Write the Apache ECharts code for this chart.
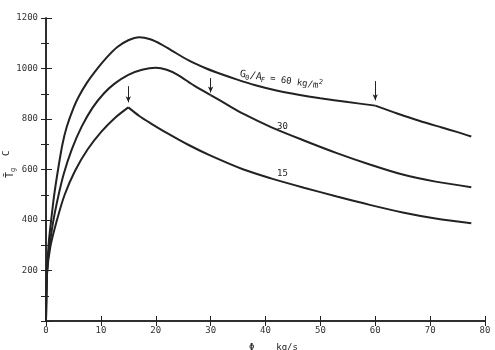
<!DOCTYPE html>
<html>
<head>
<meta charset="utf-8">
<script src="https://cdn.jsdelivr.net/npm/echarts@6/dist/echarts.min.js"></script>
<style>
  html, body { margin: 0; padding: 0; background: #fff; }
  #chart { width: 495px; height: 350px; }
</style>
</head>
<body>
<div id="chart"></div>
<script>
// Φ (kg/s) and gas temperature T_g (C) for G0/AF = 60, 30, 15 kg/m2
var phi60 = [0, 0.2, 0.5, 1, 1.5, 2.2, 3, 3.8, 5, 6, 7.5, 9, 11, 13, 15, 17, 19, 21, 23, 26, 29, 32, 35, 38, 42, 46, 50, 55, 60, 64, 68, 72, 75, 77.5];
var tg60 = [0, 200, 310, 410, 500, 600, 700, 770, 843, 890, 945, 990, 1042, 1085, 1112, 1124, 1116, 1096, 1070, 1032, 1002, 977, 955, 935, 913, 896, 882, 867, 853, 822, 793, 767, 748, 731];

var phi30 = [0, 0.2, 0.6, 1.2, 2, 3.2, 4.7, 6.5, 8.5, 10.5, 12.5, 15, 17.5, 20, 22, 24, 27, 30, 33, 36, 41, 47, 53, 59, 65, 71, 77.5];
var tg30 = [0, 200, 290, 380, 470, 580, 680, 770, 845, 900, 940, 975, 995, 1003, 995, 975, 932, 895, 857, 820, 768, 715, 665, 620, 580, 552, 530];

var phi15 = [0, 0.2, 0.8, 2, 3.4, 5.3, 7.6, 10.1, 12.6, 15, 17, 19, 22, 26, 30, 36, 41, 47, 53, 59, 65, 71, 77.5];
var tg15 = [0, 190, 295, 400, 500, 595, 680, 750, 805, 846, 812, 784, 745, 697, 655, 600, 565, 528, 493, 460, 430, 406, 387];

// arrows marking the break points
var arrowPhi = [15, 30, 60];
var arrowFrom = [930, 962, 950];
var arrowTo = [866, 905, 874];

var yTicks = [200, 400, 600, 800, 1000, 1200];

// split a curve at its break point so the corner stays sharp
function segments(xs, ys, breakX) {
    var before = [], after = [];
    xs.forEach(function (x, i) {
        if (x <= breakX) before.push([x, ys[i]]);
        if (x >= breakX) after.push([x, ys[i]]);
    });
    return [before, after];
}

var ink = '#222';
var mono = '"DejaVu Sans Mono", "Liberation Mono", monospace';

function arrowLine(i) {
    return {
        silent: true,
        symbol: ['none', 'arrow'],
        symbolSize: [4, 6],
        label: { show: false },
        lineStyle: { color: ink, width: 1, type: 'solid' },
        data: [[{ coord: [arrowPhi[i], arrowFrom[i]] }, { coord: [arrowPhi[i], arrowTo[i]] }]]
    };
}

function curve(name, xs, ys, arrowIndex) {
    var parts = segments(xs, ys, arrowPhi[arrowIndex]);
    return parts.map(function (data, k) {
        var s = {
            name: name,
            type: 'line',
            data: data,
            showSymbol: false,
            smooth: 0.3,
            lineStyle: { color: ink, width: 2 }
        };
        if (k === 0) s.markLine = arrowLine(arrowIndex);
        return s;
    });
}

var series = [].concat(
    curve('60', phi60, tg60, 2),
    curve('30', phi30, tg30, 1),
    curve('15', phi15, tg15, 0)
);

var chart = echarts.init(document.getElementById('chart'));
chart.setOption({
    animation: false,
    backgroundColor: '#fff',
    grid: { left: 46, top: 18, right: 10, bottom: 29, outerBoundsMode: 'none', containLabel: false },
    xAxis: [
        {
            type: 'value',
            min: 0, max: 80, interval: 10,
            name: 'Φ    kg/s',
            nameLocation: 'middle',
            nameGap: 22,
            nameTextStyle: { fontFamily: mono, fontSize: 9, color: ink, padding: [0, 0, 0, 16] },
            axisLine: { show: true, lineStyle: { color: ink, width: 1.5 } },
            axisTick: { show: true, inside: true, length: 5, lineStyle: { color: ink } },
            axisLabel: { fontFamily: mono, fontSize: 9, color: '#333', margin: 5 },
            splitLine: { show: false }
        },
        {
            type: 'value',
            position: 'top',
            min: 0, max: 80, interval: 10,
            axisLine: { show: true, lineStyle: { color: ink, width: 1.5 } },
            axisTick: { show: true, inside: true, length: 5, lineStyle: { color: ink } },
            axisLabel: { show: false },
            splitLine: { show: false }
        }
    ],
    yAxis: [
        {
            type: 'value',
            min: 0, max: 1200, interval: 200,
            axisLine: { show: true, lineStyle: { color: ink, width: 1.5 } },
            axisTick: { show: true, inside: true, length: 6, lineStyle: { color: ink } },
            minorTick: { show: true, splitNumber: 2, length: 3, lineStyle: { color: ink } },
            axisLabel: {
                fontFamily: mono, fontSize: 9, color: '#333', margin: 8,
                formatter: function (v) { return yTicks.indexOf(v) >= 0 ? String(v) : ''; }
            },
            splitLine: { show: false }
        },
        {
            type: 'value',
            position: 'right',
            min: 0, max: 1200, interval: 100,
            axisLine: { show: true, lineStyle: { color: ink, width: 1.5 } },
            axisTick: { show: true, inside: true, length: 5, lineStyle: { color: ink } },
            axisLabel: { show: false },
            splitLine: { show: false }
        }
    ],
    series: series,
    graphic: [
        {
            // G0/AF = 60 kg/m2, written along the top curve
            type: 'group',
            x: 240, y: 74,
            rotation: -0.15,
            children: [
                { type: 'text', x: 0, y: 0, style: { text: 'G', font: '10px ' + mono, fill: ink, verticalAlign: 'middle' } },
                { type: 'text', x: 5.5, y: 3, style: { text: '0', font: '7px ' + mono, fill: ink, verticalAlign: 'middle' } },
                { type: 'text', x: 10, y: 0, style: { text: '/A', font: '10px ' + mono, fill: ink, verticalAlign: 'middle' } },
                { type: 'text', x: 21.5, y: 3, style: { text: 'F', font: '7px ' + mono, fill: ink, verticalAlign: 'middle' } },
                { type: 'text', x: 25, y: 0, style: { text: ' = 60 kg/m', font: '9px ' + mono, fill: ink, verticalAlign: 'middle' } },
                { type: 'text', x: 79, y: -4, style: { text: '2', font: '7px ' + mono, fill: ink, verticalAlign: 'middle' } }
            ]
        },
        { type: 'text', x: 277, y: 122, style: { text: '30', font: '9px ' + mono, fill: ink } },
        { type: 'text', x: 277, y: 169, style: { text: '15', font: '9px ' + mono, fill: ink } },
        {
            // y axis title: T̄g  C
            type: 'group',
            x: 10, y: 178,
            rotation: Math.PI / 2,
            children: [
                { type: 'text', x: 0, y: 0, style: { text: 'T\u0304', font: '10px ' + mono, fill: ink, verticalAlign: 'middle' } },
                { type: 'text', x: 6, y: 3, style: { text: 'g', font: '7px ' + mono, fill: ink, verticalAlign: 'middle' } },
                { type: 'text', x: 22, y: -3, style: { text: 'C', font: '9px ' + mono, fill: ink, verticalAlign: 'middle' } }
            ]
        }
    ]
});
</script>
</body>
</html>
